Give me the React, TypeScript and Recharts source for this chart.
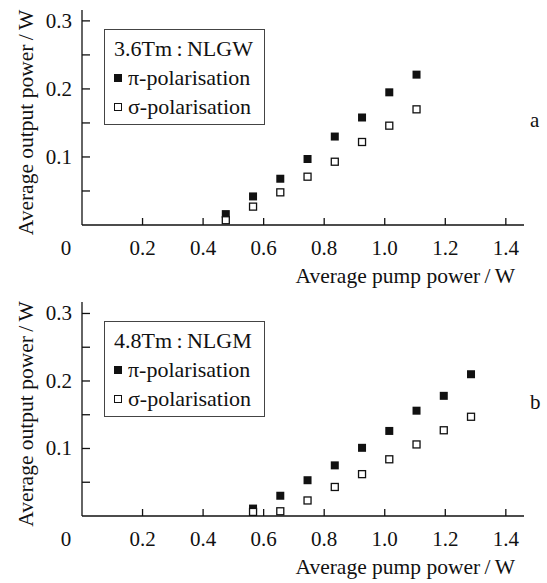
import React from "react";
import { ScatterChart, Scatter, XAxis, YAxis, Legend } from "recharts";

// tick values
const xTicks = [0, 0.2, 0.4, 0.6, 0.8, 1.0, 1.2, 1.4];
const yTicks = [0.05, 0.1, 0.15, 0.2, 0.25, 0.3];
const yLabelled = [0.1, 0.2, 0.3];

// panel a: 3.6Tm:NLGW
const pumpA = [0.475, 0.565, 0.655, 0.745, 0.835, 0.925, 1.015, 1.105];
const piA = [0.016, 0.042, 0.068, 0.097, 0.13, 0.158, 0.195, 0.221];
const sigmaA = [0.007, 0.027, 0.048, 0.071, 0.093, 0.122, 0.146, 0.17];

// panel b: 4.8Tm:NLGM
const pumpB = [0.565, 0.655, 0.745, 0.835, 0.925, 1.015, 1.105, 1.195, 1.285];
const piB = [0.011, 0.03, 0.053, 0.075, 0.101, 0.126, 0.156, 0.178, 0.21];
const sigmaB = [0.006, 0.007, 0.023, 0.043, 0.062, 0.084, 0.106, 0.127, 0.147];

const FONT = "'Liberation Serif', 'Times New Roman', serif";
const INK = "#111";
const TS = "\u2009"; // thin space

const toPoints = (xs: number[], ys: number[]) => xs.map((x, i) => ({ x, y: ys[i] }));

function XTick(props: any) {
  const { x, y, payload } = props;
  const v = payload.value as number;
  if (v === 0) {
    return (
      <text x={x - 16} y={y + 30} textAnchor="middle" fontSize={21} fontFamily={FONT} fill={INK}>0</text>
    );
  }
  return (
    <g>
      <line x1={x} x2={x} y1={y} y2={y - 7} stroke={INK} strokeWidth={1.3} />
      <text x={x} y={y + 30} textAnchor="middle" fontSize={21} fontFamily={FONT} fill={INK}>{v.toFixed(1)}</text>
    </g>
  );
}

function YTick(props: any) {
  const { x, y, payload } = props;
  const v = payload.value as number;
  return (
    <g>
      <line x1={x} x2={x + 8} y1={y} y2={y} stroke={INK} strokeWidth={1.3} />
      {yLabelled.includes(v) ? (
        <text x={x - 10} y={y + 7} textAnchor="end" fontSize={21} fontFamily={FONT} fill={INK}>{v.toFixed(1)}</text>
      ) : null}
    </g>
  );
}

const filledSquare = (p: any) => <rect x={p.cx - 4} y={p.cy - 4} width={8} height={8} fill={INK} />;
const openSquare = (p: any) => (
  <rect x={p.cx - 3.5} y={p.cy - 3.5} width={7} height={7} fill="#fff" stroke={INK} strokeWidth={1.3} />
);

function LegendBox({ title }: { title: string }) {
  const row: React.CSSProperties = { display: "flex", alignItems: "center", height: 29, whiteSpace: "nowrap", fontFamily: FONT };
  return (
    <div style={{ border: "1.2px solid #444", width: 161, height: 96, boxSizing: "border-box", padding: "4px 0 0 9px", fontFamily: FONT, fontSize: 22, color: INK, background: "#fff" }}>
      <div style={row}>{title}</div>
      <div style={row}>
        <span style={{ display: "inline-block", width: 8, height: 8, background: INK, marginRight: 6 }} />
        π-polarisation
      </div>
      <div style={row}>
        <span style={{ display: "inline-block", width: 6, height: 6, border: `1.3px solid ${INK}`, marginRight: 6 }} />
        σ-polarisation
      </div>
    </div>
  );
}

function Panel({ title, pump, pi, sigma, yMax, second, letter }: {
  title: string; pump: number[]; pi: number[]; sigma: number[]; yMax: number; second: boolean; letter: string;
}) {
  const h = second ? 293 : 290;
  return (
    <div style={{ position: "relative", width: 547, height: h }}>
      <ScatterChart width={547} height={h} margin={{ top: second ? 12 : 10, right: 23, bottom: second ? 27 : 25, left: 0 }}>
        <XAxis
          type="number"
          dataKey="x"
          domain={[0, 1.46]}
          ticks={xTicks}
          interval={0}
          height={40}
          tickSize={0}
          tickMargin={0}
          tick={<XTick />}
          axisLine={{ stroke: INK, strokeWidth: 1.3 }}
          allowDataOverflow
          label={{
            content: (lp: any) => {
              const vb = lp.viewBox;
              return (
                <text x={vb.x + vb.width - 9} y={vb.y + 58} textAnchor="end" fontSize={21.5} fontFamily={FONT} fill={INK}>
                  {`Average pump power${TS}/${TS}W`}
                </text>
              );
            },
          }}
        />
        <YAxis
          type="number"
          dataKey="y"
          domain={[0, yMax]}
          ticks={yTicks}
          interval={0}
          width={82}
          tickSize={0}
          tickMargin={0}
          tick={<YTick />}
          axisLine={{ stroke: INK, strokeWidth: 1.3 }}
          allowDataOverflow
          label={{
            content: (lp: any) => {
              const vb = lp.viewBox;
              const cy = vb.y + vb.height / 2 + 5;
              return (
                <text x={26} y={cy} transform={`rotate(-90 26 ${cy})`} textAnchor="middle" dominantBaseline="central" fontSize={21.5} fontFamily={FONT} fill={INK}>
                  {`Average output power${TS}/${TS}W`}
                </text>
              );
            },
          }}
        />
        <Legend
          layout="vertical"
          align="center"
          verticalAlign="middle"
          wrapperStyle={{ position: "absolute", left: 104, top: second ? 31 : 29, width: 161 }}
          content={() => <LegendBox title={title} />}
        />
        <Scatter name="π-polarisation" data={toPoints(pump, pi)} shape={filledSquare} isAnimationActive={false} />
        <Scatter name="σ-polarisation" data={toPoints(pump, sigma)} shape={openSquare} isAnimationActive={false} />
      </ScatterChart>
      <span style={{ position: "absolute", left: 530, top: second ? 100 : 108, fontFamily: FONT, fontSize: 21, color: INK }}>{letter}</span>
    </div>
  );
}

export default function App() {
  return (
    <div style={{ position: "absolute", left: 0, top: 0, width: 547, height: 583, background: "#fff" }}>
      <Panel title={`3.6Tm${TS}:${TS}NLGW`} pump={pumpA} pi={piA} sigma={sigmaA} yMax={0.316} second={false} letter="a" />
      <Panel title={`4.8Tm${TS}:${TS}NLGM`} pump={pumpB} pi={piB} sigma={sigmaB} yMax={0.317} second={true} letter="b" />
    </div>
  );
}
